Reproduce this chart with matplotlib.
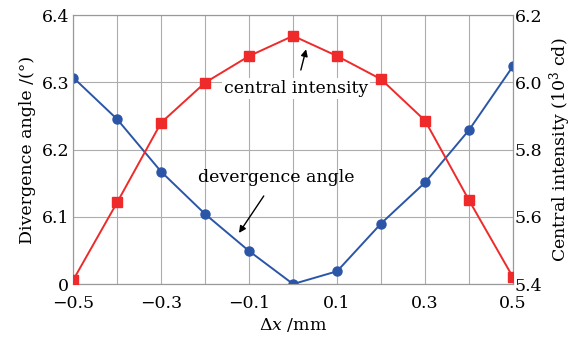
import numpy as np
import matplotlib.pyplot as plt
from matplotlib.ticker import MultipleLocator

plt.rcParams['font.family'] = 'DejaVu Serif'
plt.rcParams['mathtext.fontset'] = 'dejavuserif'

# datos
dx = [-0.5, -0.4, -0.3, -0.2, -0.1, 0.0, 0.1, 0.2, 0.3, 0.4, 0.5]
angle = [6.307, 6.245, 6.167, 6.104, 6.049, 6.000, 6.019, 6.090, 6.151, 6.229, 6.324]
intensity = [5.412, 5.643, 5.880, 5.999, 6.078, 6.138, 6.078, 6.009, 5.886, 5.649, 5.420]

x_ticks = [-0.5, -0.3, -0.1, 0.1, 0.3, 0.5]
left_ticks = [6.0, 6.1, 6.2, 6.3, 6.4]
left_labels = ['0', '6.1', '6.2', '6.3', '6.4']
right_ticks = [5.4, 5.6, 5.8, 6.0, 6.2]
right_labels = ['5.4', '5.6', '5.8', '6.0', '6.2']

fs = 12.5

fig, ax = plt.subplots(figsize=(5.81, 3.41), dpi=100)
fig.subplots_adjust(left=0.126, right=0.883, top=0.956, bottom=0.167)
ax2 = ax.twinx()

ax.plot(dx, angle, color='#2b56a8', marker='o', markersize=6.5, linewidth=1.4, zorder=3)
ax2.plot(dx, intensity, color='#ee2a2a', marker='s', markersize=6.5, linewidth=1.4, zorder=3)

ax.set_xlim(-0.5, 0.5)
ax.set_ylim(6.0, 6.4)
ax2.set_ylim(5.4, 6.2)
ax.set_xticks(x_ticks)
ax.set_xticklabels(['\u22120.5', '\u22120.3', '\u22120.1', '0.1', '0.3', '0.5'])
ax.xaxis.set_minor_locator(MultipleLocator(0.1))
ax.set_yticks(left_ticks)
ax.set_yticklabels(left_labels)
ax2.set_yticks(right_ticks)
ax2.set_yticklabels(right_labels)

ax.grid(True, which='both', axis='x', color='#adadad', linewidth=0.8)
ax.grid(True, axis='y', color='#adadad', linewidth=0.8)
ax.tick_params(axis='x', which='both', length=0, labelsize=fs, pad=8)
ax.tick_params(axis='y', length=0, labelsize=fs, pad=3)
ax2.tick_params(length=0, labelsize=fs, pad=1)
for a in (ax, ax2):
    for s in a.spines.values():
        s.set_color('#999999')
        s.set_linewidth(0.8)

ax.set_xlabel(r'$\Delta x$ /mm', fontsize=fs, labelpad=3)
ax.set_ylabel('Divergence angle /(°)', fontsize=fs, labelpad=4)
ax2.set_ylabel(r'Central intensity (10$^3$ cd)', fontsize=fs, labelpad=4)

ax.annotate('central intensity', xy=(0.0295, 6.349), xytext=(0.007, 6.291),
            ha='center', va='center', fontsize=fs,
            bbox=dict(boxstyle='square,pad=0.1', fc='white', ec='none'),
            arrowprops=dict(arrowstyle='-|>', color='black', lw=1.0,
                            mutation_scale=10, shrinkA=6, shrinkB=0), zorder=5)
ax.annotate('devergence angle', xy=(-0.123, 6.076), xytext=(-0.039, 6.158),
            ha='center', va='center', fontsize=fs,
            arrowprops=dict(arrowstyle='-|>', color='black', lw=1.0,
                            mutation_scale=10, shrinkA=6, shrinkB=0), zorder=5)

fig.savefig('out.png', dpi=100)
